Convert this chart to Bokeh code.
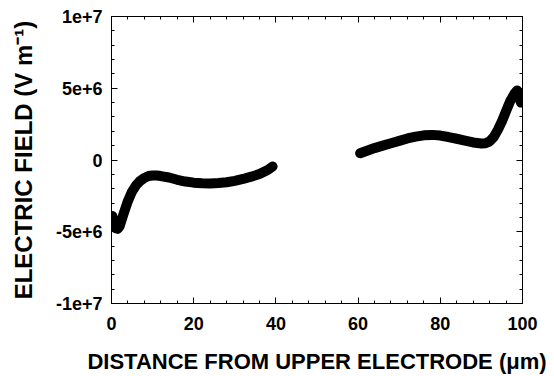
from bokeh.plotting import figure
from bokeh.models import LinearAxis, FixedTicker, Range1d
from bokeh.embed import file_html
from bokeh.resources import INLINE

# --- data (distance in µm, field in units of 1e6 V/m) ---
seg1_x = [0.2, 0.6, 1.0, 1.5, 2.0, 2.5, 3, 4, 5, 6, 7, 8, 9, 10, 11, 12, 14, 16, 18,
          20, 22, 24, 26, 28, 30, 32, 34, 36, 38, 39.2]
seg1_e = [-3.9, -4.4, -4.75, -4.8, -4.6, -4.15, -3.7, -2.85, -2.2, -1.75, -1.45, -1.25,
          -1.12, -1.08, -1.08, -1.12, -1.22, -1.38, -1.5, -1.58, -1.62, -1.63, -1.6,
          -1.55, -1.45, -1.32, -1.16, -0.98, -0.7, -0.45]
seg2_x = [60.5, 62, 64, 66, 68, 70, 72, 74, 76, 78, 80, 82, 84, 86, 88, 90, 91, 92, 93,
          94, 95, 96, 97, 98, 98.7, 99.2, 99.6]
seg2_e = [0.47, 0.63, 0.83, 1.0, 1.17, 1.33, 1.5, 1.63, 1.72, 1.75, 1.7, 1.6, 1.48,
          1.35, 1.22, 1.15, 1.17, 1.3, 1.6, 2.1, 2.7, 3.4, 4.1, 4.6, 4.85, 4.6, 4.0]
scale = 1e6

x_ticks = [0, 20, 40, 60, 80, 100]
x_minor = [v for v in range(0, 101, 4)]
y_ticks = [-10000000, -5000000, 0, 5000000, 10000000]
y_tick_labels = ["-1e+7", "-5e+6", "0", "5e+6", "1e+7"]
y_minor = [v * 1000000 for v in range(-10, 11)]

x_label = "DISTANCE FROM UPPER ELECTRODE (\u03bcm)"
y_label = "ELECTRIC FIELD (V m\u207b\u00b9)"

FONT = "Liberation Sans"

p = figure(width=554, height=376, output_backend="svg", toolbar_location=None,
           x_range=Range1d(0, 100), y_range=Range1d(-1e7, 1e7),
           min_border_left=111, min_border_right=32, min_border_top=16,
           min_border_bottom=73, x_axis_label=x_label, y_axis_label=y_label)
p.background_fill_color = "white"
p.border_fill_color = "white"
p.outline_line_color = "black"
p.outline_line_width = 1
p.xgrid.visible = False
p.ygrid.visible = False

p.line([v for v in seg1_x], [v * scale for v in seg1_e], line_color="black",
       line_width=10, line_cap="round", line_join="round")
p.line([v for v in seg2_x], [v * scale for v in seg2_e], line_color="black",
       line_width=10, line_cap="round", line_join="round")

xt = FixedTicker(ticks=x_ticks, minor_ticks=x_minor)
yt = FixedTicker(ticks=y_ticks, minor_ticks=y_minor)

for ax in (p.xaxis[0], p.yaxis[0]):
    ax.axis_line_color = "black"
    ax.major_tick_in = 6
    ax.major_tick_out = 0
    ax.minor_tick_in = 3
    ax.minor_tick_out = 0
    ax.major_tick_line_color = "black"
    ax.minor_tick_line_color = "black"
    ax.major_label_text_font = FONT
    ax.major_label_text_font_style = "bold"
    ax.major_label_text_font_size = "18px"
    ax.major_label_text_color = "black"
    ax.axis_label_text_font = FONT
    ax.axis_label_text_font_style = "bold"
    ax.axis_label_text_color = "black"

p.xaxis[0].axis_label_text_font_size = "22px"
p.yaxis[0].axis_label_text_font_size = "24px"
p.xaxis[0].ticker = xt
p.yaxis[0].ticker = yt
p.yaxis[0].major_label_overrides = {t: l for t, l in zip(y_ticks, y_tick_labels)}
p.xaxis[0].major_label_standoff = 13
p.yaxis[0].major_label_standoff = 9
p.xaxis[0].axis_label_standoff = 16
p.yaxis[0].axis_label_standoff = 16

# mirrored ticks on top and right (no labels)
top = LinearAxis(ticker=FixedTicker(ticks=x_ticks, minor_ticks=x_minor))
right = LinearAxis(ticker=FixedTicker(ticks=y_ticks, minor_ticks=y_minor))
for ax in (top, right):
    ax.axis_line_color = None
    ax.major_tick_in = 6
    ax.major_tick_out = 0
    ax.minor_tick_in = 3
    ax.minor_tick_out = 0
    ax.major_tick_line_color = "black"
    ax.minor_tick_line_color = "black"
    ax.major_label_text_font_size = "0px"
    ax.major_label_text_color = None
    ax.major_label_standoff = 0
p.add_layout(top, "above")
p.add_layout(right, "right")

open("out.html", "w").write(file_html(p, INLINE))
